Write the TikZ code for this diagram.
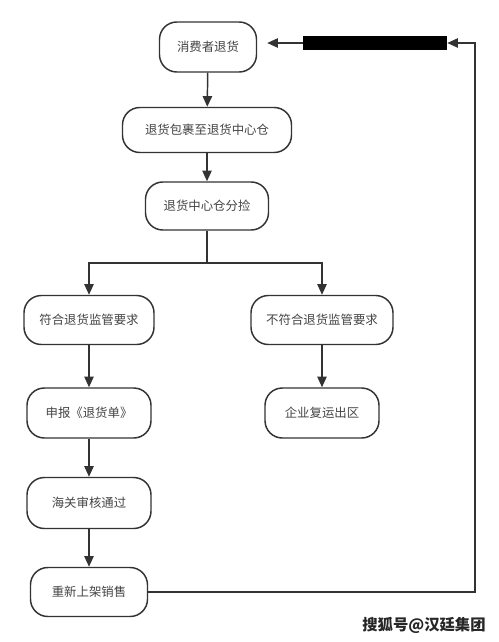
\documentclass[tikz,border=0pt]{standalone}
\usepackage{fontspec}
\setmainfont{Noto Sans CJK SC}
\usetikzlibrary{arrows.meta}
\definecolor{linegray}{HTML}{333333}
\definecolor{textgray}{HTML}{444444}
\tikzset{
  flowbox/.style={draw=linegray, line width=1.1pt, rounded corners=13pt, align=center,
    text=textgray, font=\fontsize{9.3}{11}\selectfont, inner sep=0pt},
  flowline/.style={draw=linegray, line width=1.1pt},
  flowarrow/.style={flowline, -{Triangle[width=7pt,length=8pt]}}
}
\begin{document}
\begin{tikzpicture}[x=0.75pt,y=-0.75pt]
  \useasboundingbox[fill=white] (0,0) rectangle (499,642);
  % main column
  \node[flowbox, minimum width=72.75pt, minimum height=37.5pt] (b1) at (208,47) {消费者退货};
  \node[flowbox, minimum width=126.75pt, minimum height=33.75pt] (b2) at (207,130) {退货包裹至退货中心仓};
  \node[flowbox, minimum width=92.25pt, minimum height=36pt] (b3) at (207,206) {退货中心仓分捡};
  % two branches
  \node[flowbox, minimum width=97.5pt, minimum height=36.75pt] (b4) at (89,320) {符合退货监管要求};
  \node[flowbox, minimum width=106.5pt, minimum height=36.75pt] (b5) at (322,320) {不符合退货监管要求};
  \node[flowbox, minimum width=93pt, minimum height=37.5pt] (b6) at (89,413) {申报《退货单》};
  \node[flowbox, minimum width=85.5pt, minimum height=37.5pt] (b7) at (322,413) {企业复运出区};
  \node[flowbox, minimum width=93pt, minimum height=38.25pt] (b8) at (89,503) {海关审核通过};
  \node[flowbox, minimum width=87.75pt, minimum height=36.75pt] (b9) at (89,592) {重新上架销售};
  % covered label on the return line
  \node[fill=black, minimum width=108pt, minimum height=11pt, inner sep=0pt] (lab) at (375,43) {};
  \coordinate (split) at (207,263);
  \coordinate (ret) at (475,43);
  \draw[flowarrow] (b1) -- (b2);
  \draw[flowarrow] (b2) -- (b3);
  \draw[flowline] (b3) -- (split);
  \draw[flowarrow] (split) -| (b4.north);
  \draw[flowarrow] (split) -| (b5.north);
  \draw[flowarrow] (b4) -- (b6);
  \draw[flowarrow] (b5) -- (b7);
  \draw[flowarrow] (b6) -- (b8);
  \draw[flowarrow] (b8) -- (b9);
  \draw[flowarrow] (b9.east) -| (ret) -- (lab.east);
  \draw[flowarrow, shorten >=7.5pt] (lab.west) -- (b1.east |- lab.west);
  % watermark
  \node[font=\fontsize{11.5}{13}\selectfont\bfseries, text=black!85] (mark) at (424,625) {搜狐号@汉廷集团};
\end{tikzpicture}
\end{document}
